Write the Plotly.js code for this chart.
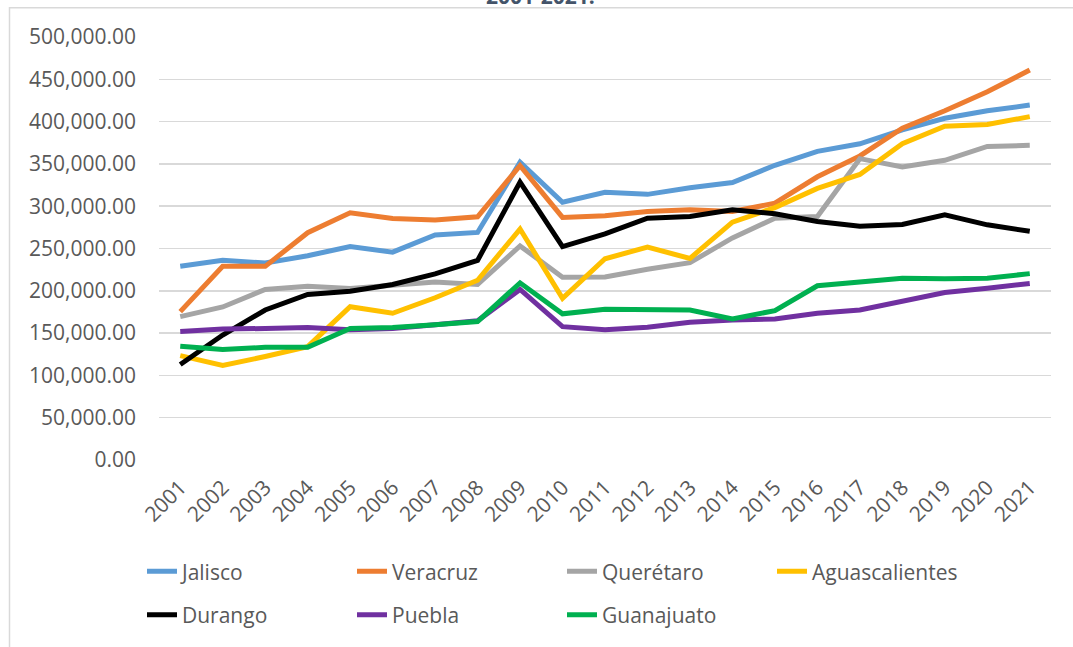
<!DOCTYPE html>
<html>
<head>
<meta charset="utf-8">
<script src="https://cdn.plot.ly/plotly-3.0.1.min.js"></script>
<style>html,body{margin:0;padding:0;background:#fff;}#chart{width:1073px;height:647px;}</style>
</head>
<body>
<div id="chart"></div>
<script>
const years = ["2001","2002","2003","2004","2005","2006","2007","2008","2009","2010","2011","2012","2013","2014","2015","2016","2017","2018","2019","2020","2021"];
const jalisco = [228900,236000,232800,241400,252300,245700,266000,269000,352000,304700,316400,314000,321900,328000,348400,364800,373800,390200,403900,412900,419500];
const veracruz = [175400,228900,228900,268700,292200,285500,283600,287500,348000,286700,288700,293700,295700,293700,303500,334800,359400,392200,412900,435200,460900];
const queretaro = [169500,180900,201600,205500,202700,206500,210500,207400,253100,216000,216400,225400,233200,262500,285900,287900,356200,346500,354300,370700,371900];
const aguascalientes = [123400,111700,122300,134000,181200,173400,191800,212500,273000,191000,237900,251600,238300,281200,298400,321100,337500,373800,394500,396500,405900];
const durango = [112900,147700,177300,195700,199600,207400,219900,235900,328500,252300,267200,285900,287900,295700,291000,282000,276200,278500,289800,278000,270300];
const puebla = [151900,154700,155500,156600,153900,155500,159800,164500,201600,157600,153900,157000,162900,165600,166800,173400,177300,187500,198000,203100,208600];
const guanajuato = [134400,130500,133200,133200,155500,156600,159800,163700,209400,172800,178100,177300,177300,166800,176600,205900,210500,214800,214100,214800,220300];

const seriesNames = ["Jalisco","Veracruz","Querétaro","Aguascalientes","Durango","Puebla","Guanajuato"];
const seriesValues = [jalisco, veracruz, queretaro, aguascalientes, durango, puebla, guanajuato];
const seriesColors = ["#5B9BD5","#ED7D31","#A5A5A5","#FFC000","#000000","#7030A0","#00B050"];
const seriesLegend = ["legend","legend","legend","legend","legend2","legend2","legend2"];

const FONT = "'Open Sans', 'DejaVu Sans', sans-serif";
const FS = 21;
const traces = seriesNames.map((n, i) => ({
  type: "scatter",
  mode: "lines",
  name: n,
  x: years,
  y: seriesValues[i],
  legend: seriesLegend[i],
  line: {color: seriesColors[i], width: 5},
  hoverinfo: "x+y+name"
}));

const L = 159, R = 1051, T = 37, B = 465;
const px2x = p => (p - L) / (R - L);
const px2y = p => (B - p) / (B - T);

const legendBase = {
  orientation: "h",
  xanchor: "left",
  yanchor: "middle",
  entrywidth: 165, entrywidthmode: "pixels",
  font: {family: FONT, size: FS, color: "#595959"},
  bgcolor: "rgba(0,0,0,0)",
  itemwidth: 30
};

const layout = {
  width: 1073, height: 647,
  margin: {l: L, r: 1073 - R, t: T, b: 647 - B, pad: 0},
  paper_bgcolor: "#ffffff",
  plot_bgcolor: "#ffffff",
  font: {family: FONT, size: FS, color: "#595959"},
  showlegend: true,
  legend: Object.assign({}, legendBase, {x: px2x(142), y: px2y(578)}),
  legend2: Object.assign({}, legendBase, {x: px2x(142), y: px2y(622)}),
  xaxis: {
    type: "category",
    range: [-0.5, 20.5],
    showgrid: false,
    zeroline: false,
    showline: false,
    ticks: "",
    tickangle: -45,
    tickfont: {family: FONT, size: FS, color: "#595959"},
    ticklabelstandoff: 10,
    fixedrange: true
  },
  yaxis: {
    range: [0, 500000],
    dtick: 50000,
    tick0: 0,
    tickformat: ",.2f",
    showgrid: true,
    gridcolor: "#D9D9D9",
    gridwidth: 1.5,
    zeroline: false,
    showline: false,
    ticks: "",
    ticklabelstandoff: 22,
    tickfont: {family: FONT, size: FS, color: "#595959"},
    fixedrange: true
  },
  annotations: [{
    xref: "paper", yref: "paper",
    x: px2x(540), y: px2y(12),
    xanchor: "center", yanchor: "bottom",
    text: "<b>2001-2021.</b>",
    showarrow: false,
    font: {family: FONT, size: 21, color: "#44546A"}
  }],
  shapes: [{
    type: "rect", xref: "paper", yref: "paper",
    x0: px2x(9.5), x1: px2x(1090),
    y0: px2y(7.5), y1: px2y(680),
    line: {color: "#D9D9D9", width: 1.5},
    fillcolor: "rgba(0,0,0,0)",
    layer: "below"
  }]
};

Plotly.newPlot("chart", traces, layout, {displayModeBar: false, staticPlot: true});
</script>
</body>
</html>
